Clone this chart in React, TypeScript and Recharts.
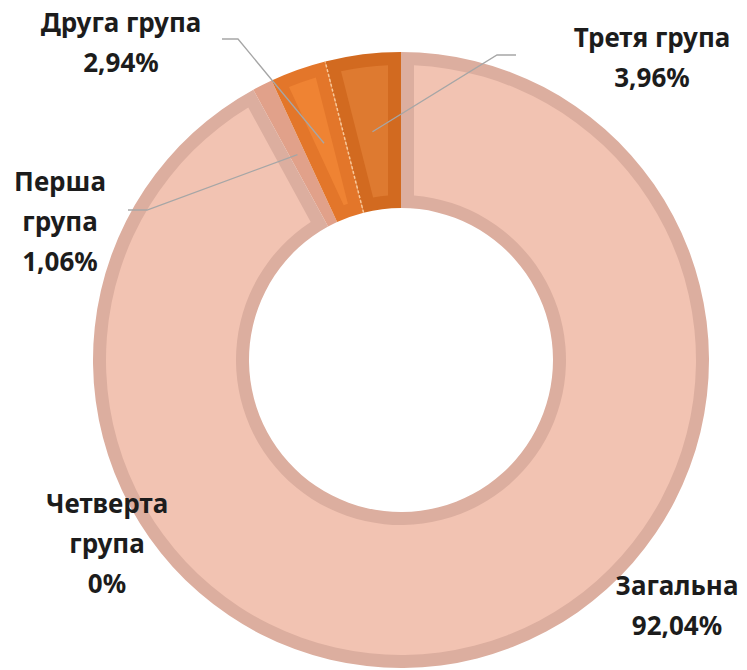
import React from 'react';
import { PieChart, Pie, Cell } from 'recharts';

const CATEGORIES = ['Загальна', 'Четверта група', 'Перша група', 'Друга група', 'Третя група'];
const SHARES = [92.04, 0, 1.06, 2.94, 3.96];
const BORDER_COLORS = ['#DCAE9F', '#DCAE9F', '#E1A18A', '#E3762A', '#D26A20'];
const FILL_COLORS = ['#F2C3B2', '#F2C3B2', '#E8A68C', '#EF8333', '#DE7A30'];

const data = CATEGORIES.map((name, i) => ({ name, value: SHARES[i] }));

const BORDER = 13;
const FONT = '"Noto Sans", "Open Sans", sans-serif';
const FONT_SIZE = 26;
const LINE_H = 40;
const RAD = Math.PI / 180;

// label placement (text centre x, first baseline) and leader elbow/end, layout only
const LABELS: { x: number; y: number; split: boolean; leader: number[][] | null }[] = [
  { x: 677, y: 595, split: false, leader: null },
  { x: 107, y: 513, split: true, leader: null },
  { x: 60, y: 191, split: true, leader: [[147, 210], [128, 210]] },
  { x: 121, y: 32, split: false, leader: [[238, 39], [222, 39]] },
  { x: 652, y: 47, split: false, leader: [[497, 55], [516, 55]] },
];

const pt = (cx: number, cy: number, r: number, a: number) => [
  cx + r * Math.cos(a * RAD),
  cy - r * Math.sin(a * RAD),
];

// inner lighter area of a slice, inset by the border width on every side
function insetPath(cx: number, cy: number, r0: number, r1: number, a0: number, a1: number, b: number) {
  const hi = Math.max(a0, a1);
  const lo = Math.min(a0, a1);
  const ro = r1 - b;
  const ri = r0 + b;
  const dO = Math.asin(b / ro) / RAD;
  const hiO = hi - dO;
  const loO = lo + dO;
  if (hiO <= loO) return null;
  const [x1, y1] = pt(cx, cy, ro, hiO);
  const [x2, y2] = pt(cx, cy, ro, loO);
  let d = `M${x1},${y1} A${ro},${ro} 0 ${hiO - loO > 180 ? 1 : 0} 1 ${x2},${y2}`;
  const dI = Math.asin(Math.min(1, b / ri)) / RAD;
  const hiI = hi - dI;
  const loI = lo + dI;
  if (hiI > loI) {
    const [x3, y3] = pt(cx, cy, ri, loI);
    const [x4, y4] = pt(cx, cy, ri, hiI);
    d += ` L${x3},${y3} A${ri},${ri} 0 ${hiI - loI > 180 ? 1 : 0} 0 ${x4},${y4} Z`;
  } else {
    const rs = b / Math.sin(((hi - lo) / 2) * RAD);
    const [x3, y3] = pt(cx, cy, rs, (hi + lo) / 2);
    d += ` L${x3},${y3} Z`;
  }
  return d;
}

const formatPct = (v: number) => (v === 0 ? '0%' : `${v.toFixed(2).replace('.', ',')}%`);

const renderLabel = (props: any) => {
  const { cx, cy, innerRadius, outerRadius, startAngle, endAngle, index, value, name } = props;
  const layout = LABELS[index];
  const d = insetPath(cx, cy, innerRadius, outerRadius, startAngle, endAngle, BORDER);
  const lines = [...(layout.split ? String(name).split(' ') : [name]), formatPct(value)];
  const mid = (startAngle + endAngle) / 2;
  const start = pt(cx, cy, (innerRadius + outerRadius) / 2, mid);
  const seamA = pt(cx, cy, innerRadius, endAngle);
  const seamB = pt(cx, cy, outerRadius, endAngle);

  return (
    <g key={`label-${index}`}>
      {d && <path d={d} fill={FILL_COLORS[index]} />}
      {index === 3 && (
        <line
          x1={seamA[0]}
          y1={seamA[1]}
          x2={seamB[0]}
          y2={seamB[1]}
          stroke="#F9C99A"
          strokeWidth={1.5}
          strokeDasharray="3 2"
        />
      )}
      {layout.leader && (
        <polyline
          points={[start, ...layout.leader].map((p) => p.join(',')).join(' ')}
          fill="none"
          stroke="#A6A6A6"
          strokeWidth={1.3}
        />
      )}
      <text
        textAnchor="middle"
        fontFamily={FONT}
        fontWeight={700}
        fontSize={FONT_SIZE}
        fill="#1C1C1C"
      >
        {lines.map((l, i) => (
          <tspan key={i} x={layout.x} y={layout.y + i * LINE_H}>
            {l}
          </tspan>
        ))}
      </text>
    </g>
  );
};

export default function App() {
  return (
    <div style={{ position: 'absolute', left: 0, top: 0, width: 747, height: 670, background: '#fff' }}>
      <PieChart width={747} height={670} margin={{ top: 0, right: 0, bottom: 0, left: 0 }}>
        <Pie
          data={data}
          dataKey="value"
          nameKey="name"
          cx={401}
          cy={360}
          innerRadius={152}
          outerRadius={308}
          startAngle={90}
          endAngle={-270}
          stroke="none"
          labelLine={false}
          label={renderLabel}
          isAnimationActive={false}
        >
          {data.map((entry, i) => (
            <Cell key={entry.name} fill={BORDER_COLORS[i]} />
          ))}
        </Pie>
      </PieChart>
    </div>
  );
}
